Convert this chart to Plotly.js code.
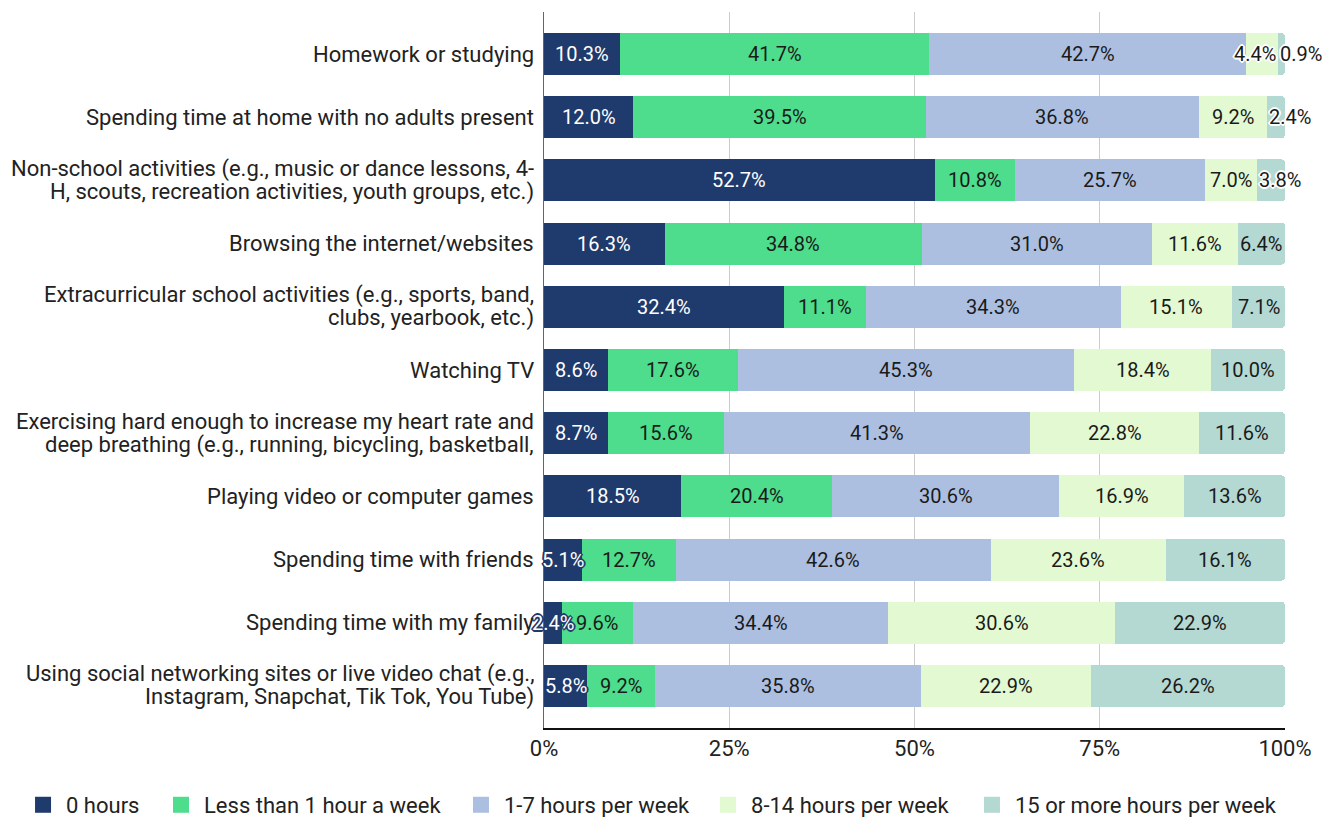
<!DOCTYPE html>
<html>
<head>
<meta charset="utf-8">
<script src="https://cdn.plot.ly/plotly-3.0.1.min.js"></script>
<style>
  html, body { margin: 0; padding: 0; background: #fff; }
  #chart { width: 1332px; height: 817px; }
</style>
</head>
<body>
<div id="chart"></div>
<script>
// ---- data ----
const categories = [
  "Homework or studying",
  "Spending time at home with no adults present",
  "Non-school activities (e.g., music or dance lessons, 4-<br>H, scouts, recreation activities, youth groups, etc.)",
  "Browsing the internet/websites",
  "Extracurricular school activities (e.g., sports, band,<br>clubs, yearbook, etc.)",
  "Watching TV",
  "Exercising hard enough to increase my heart rate and<br>deep breathing (e.g., running, bicycling, basketball,",
  "Playing video or computer games",
  "Spending time with friends",
  "Spending time with my family",
  "Using social networking sites or live video chat (e.g.,<br>Instagram, Snapchat, Tik Tok, You Tube)"
];
const seriesNames = [
  "0 hours",
  "Less than 1 hour a week",
  "1-7 hours per week",
  "8-14 hours per week",
  "15 or more hours per week"
];
const hours0   = [10.3, 12.0, 52.7, 16.3, 32.4,  8.6,  8.7, 18.5,  5.1,  2.4,  5.8];
const lessThan1= [41.7, 39.5, 10.8, 34.8, 11.1, 17.6, 15.6, 20.4, 12.7,  9.6,  9.2];
const hours1to7= [42.7, 36.8, 25.7, 31.0, 34.3, 45.3, 41.3, 30.6, 42.6, 34.4, 35.8];
const hours8to14=[ 4.4,  9.2,  7.0, 11.6, 15.1, 18.4, 22.8, 16.9, 23.6, 30.6, 22.9];
const hours15p = [ 0.9,  2.4,  3.8,  6.4,  7.1, 10.0, 11.6, 13.6, 16.1, 22.9, 26.2];
const xTickVals = [0, 0.25, 0.5, 0.75, 1];
const xTickText = ["0%", "25%", "50%", "75%", "100%"];

// ---- styles ----
const allSeries = [hours0, lessThan1, hours1to7, hours8to14, hours15p];
const colors = ["#1f3a6c", "#4ddd8c", "#adbfe0", "#e3f9d2", "#b4d8d2"];
const textColors = ["#ffffff", "#1a1a1a", "#1a1a1a", "#1a1a1a", "#1a1a1a"];
const FONT = "Roboto, Arial, sans-serif";
const SMALL = 6.0;
// legend box left positions (paper fraction), one legend per series
const legendX = [-0.7071, -0.5209, -0.1161, 0.2173, 0.5735];

const traces = [];
allSeries.forEach((vals, i) => {
  traces.push({
    type: "bar",
    orientation: "h",
    y: categories,
    x: vals,
    name: seriesNames[i],
    marker: { color: colors[i], line: { width: 0 } },
    showlegend: false,
    hoverinfo: "x+name"
  });
});
// legend entries
const legendIds = ["legend", "legend2", "legend3", "legend4", "legend5"];
allSeries.forEach((vals, i) => {
  traces.push({
    type: "scatter",
    mode: "markers",
    x: [null], y: [null],
    name: seriesNames[i],
    legend: legendIds[i],
    marker: { symbol: "square", size: 16, color: colors[i] },
    showlegend: true,
    hoverinfo: "skip"
  });
});

function outline(c) {
  return `1px 1px 0 ${c}, -1px -1px 0 ${c}, 1px -1px 0 ${c}, -1px 1px 0 ${c}, 2px 0 0 ${c}, -2px 0 0 ${c}, 0 2px 0 ${c}, 0 -2px 0 ${c}`;
}

const annotations = [];
// value labels (positions from normalized cumulative sums)
categories.forEach((cat, r) => {
  const total = allSeries.reduce((s, a) => s + a[r], 0);
  let cum = 0;
  const last = allSeries.length - 1;
  allSeries.forEach((vals, i) => {
    const v = vals[r];
    const start = cum / total;
    const end = (cum + v) / total;
    cum += v;
    const small = v < SMALL;
    let x = (start + end) / 2, anchor = "center";
    if (small && i === last) { x = start; anchor = "left"; }
    else if (small && i === last - 1 && allSeries[last][r] < SMALL) { x = end; anchor = "right"; }
    const oc = i === 0 ? colors[0] : "#ffffff";
    annotations.push({
      x: x, y: r, xref: "x", yref: "y",
      text: v.toFixed(1) + "%",
      showarrow: false,
      xanchor: anchor, yanchor: "middle",
      font: { family: FONT, size: 20, color: textColors[i], shadow: small ? outline(oc) : "none" }
    });
  });
});
// category labels (one annotation per line, tight line spacing)
const LINE = 23;
categories.forEach((cat, r) => {
  const lines = cat.split("<br>");
  lines.forEach((ln, k) => {
    annotations.push({
      x: 0, y: r, xref: "paper", yref: "y",
      text: ln,
      showarrow: false,
      xanchor: "right", yanchor: "middle",
      xshift: -8,
      yshift: -(k - (lines.length - 1) / 2) * LINE,
      font: { family: FONT, size: 22, color: "#222222" }
    });
  });
});

const layout = {
  width: 1332, height: 817,
  margin: { l: 544, r: 47, t: 12, b: 89, autoexpand: false },
  paper_bgcolor: "#ffffff",
  plot_bgcolor: "#ffffff",
  barmode: "stack",
  barnorm: "fraction",
  bargap: 0.335,
  barcornerradius: 4,
  font: { family: FONT, size: 22, color: "#222222" },
  xaxis: {
    range: [0, 1],
    tickvals: xTickVals,
    ticktext: xTickText,
    showgrid: true,
    gridcolor: "#cccccc",
    gridwidth: 1,
    zeroline: false,
    showline: true,
    linecolor: "#111111",
    linewidth: 2,
    ticks: "",
    tickfont: { family: FONT, size: 22, color: "#222222" },
    fixedrange: true
  },
  yaxis: {
    autorange: false,
    range: [10.665, -0.665],
    type: "category",
    categoryarray: categories,
    showticklabels: false,
    showline: true,
    linecolor: "#666666",
    linewidth: 1.5,
    showgrid: false,
    zeroline: false,
    ticks: "",
    fixedrange: true
  },
  annotations: annotations
};
legendIds.forEach((id, i) => {
  layout[id] = {
    orientation: "h",
    xref: "paper", yref: "paper",
    x: legendX[i], xanchor: "left",
    y: -0.1075, yanchor: "middle",
    itemwidth: 36,
    bgcolor: "rgba(0,0,0,0)",
    font: { family: FONT, size: 22, color: "#222222" },
    itemclick: false
  };
});

Plotly.newPlot("chart", traces, layout, { displayModeBar: false, staticPlot: true });
</script>
</body>
</html>
